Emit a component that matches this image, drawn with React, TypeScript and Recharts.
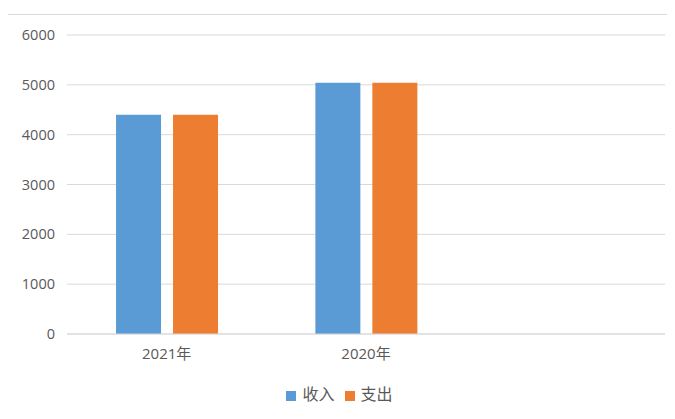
import React from "react";
import { BarChart, Bar, XAxis, YAxis, CartesianGrid, Legend } from "recharts";

const categories = ["2021年", "2020年", ""];
const incomeValues = [4400, 5040, null];
const expenseValues = [4400, 5040, null];
const yTicks = [0, 1000, 2000, 3000, 4000, 5000, 6000];

const data = categories.map((c, i) => ({
  name: c,
  收入: incomeValues[i],
  支出: expenseValues[i],
}));

const FONT = "'Open Sans', 'Noto Sans CJK SC', sans-serif";

export default function App() {
  return (
    <div
      style={{
        marginLeft: -1,
        marginTop: 6,
        width: 680,
        height: 420,
        borderTop: "1px solid #d9d9d9",
        borderLeft: "1px solid #d9d9d9",
        boxSizing: "border-box",
        overflow: "visible",
        fontFamily: FONT,
      }}
    >
      <BarChart
        width={675}
        height={404}
        data={data}
        margin={{ top: 20, right: 18, bottom: 14, left: 0 }}
        barCategoryGap="24.6%"
        barGap={12}
      >
        <CartesianGrid vertical={false} stroke="#d9d9d9" strokeWidth={1} />
        <XAxis
          dataKey="name"
          axisLine={{ stroke: "#d9d9d9" }}
          tickLine={false}
          tickMargin={8}
          height={47}
          tick={{ fill: "#595959", fontSize: 15, fontFamily: FONT }}
        />
        <YAxis
          domain={[0, 6000]}
          ticks={yTicks}
          axisLine={false}
          tickLine={false}
          tickMargin={6}
          width={59}
          tick={{ fill: "#595959", fontSize: 14.5, fontFamily: FONT }}
        />
        <Legend
          iconType="square"
          iconSize={10}
          itemSorter={null}
          wrapperStyle={{ left: 8, fontSize: 16, color: "#595959", fontFamily: FONT }}
          formatter={(v) => (
            <span style={{ color: "#595959", marginLeft: 2 }}>{v}</span>
          )}
        />
        <Bar dataKey="收入" fill="#5b9bd5" isAnimationActive={false} />
        <Bar dataKey="支出" fill="#ed7d31" isAnimationActive={false} />
      </BarChart>
    </div>
  );
}
